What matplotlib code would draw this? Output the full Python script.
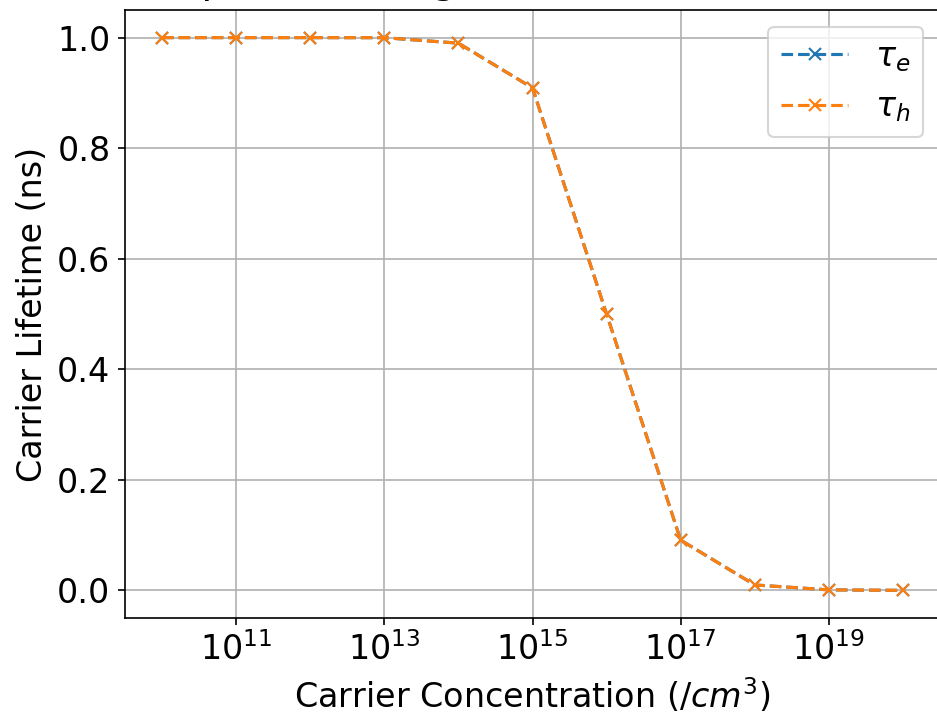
import numpy as np
import matplotlib
matplotlib.use('Agg')
import matplotlib.pyplot as plt

# Concentrations de porteurs et durees de vie
concentration = [1e10, 1e11, 1e12, 1e13, 1e14, 1e15, 1e16, 1e17, 1e18, 1e19, 1e20]
tau_e = [1.0, 1.0, 1.0, 0.9999, 0.990, 0.909, 0.5, 0.0909, 0.0099, 0.001, 0.0001]
tau_h = [1.0, 1.0, 1.0, 0.9999, 0.990, 0.909, 0.5, 0.0909, 0.0099, 0.001, 0.0001]

plt.rcParams['font.size'] = 16

dpi = 150
fig = plt.figure(figsize=(937 / dpi, 717 / dpi), dpi=dpi)
ax = fig.add_axes([125 / 937, 1 - 618 / 717, 815 / 937, 608 / 717])

ax.plot(concentration, tau_e, '--x', color='tab:blue', label=r'$\tau_e$')
ax.plot(concentration, tau_h, '--x', color='tab:orange', label=r'$\tau_h$')
ax.set_xscale('log')
# le titre est coupe en haut de l'image d'origine
ax.set_title('Spectral Integrated Carrier Lifetime', pad=8.5)
ax.set_xlabel(r'Carrier Concentration ($/cm^3$)')
ax.set_ylabel('Carrier Lifetime (ns)')
ax.grid(True)
ax.legend(loc='upper right')

fig.savefig('out.png', dpi=dpi)
